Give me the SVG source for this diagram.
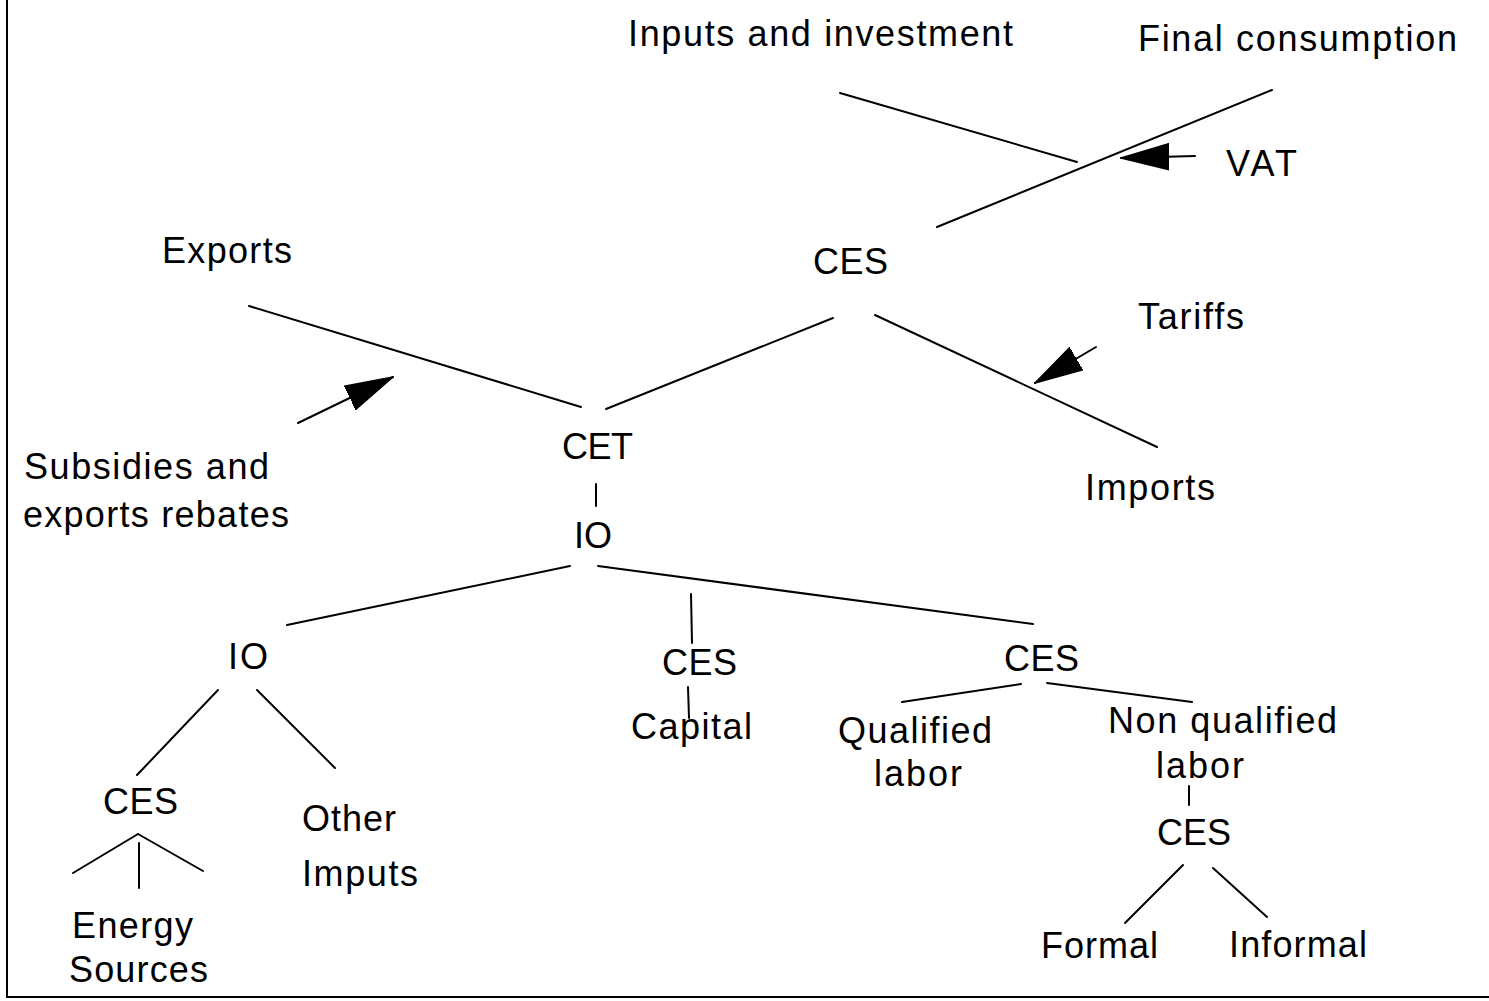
<svg xmlns="http://www.w3.org/2000/svg" width="1489" height="1001" viewBox="0 0 1489 1001">
<style>
  text { font-family: "Liberation Sans", Arial, sans-serif; font-size: 36px; fill: #000; }
  .ln { stroke: #000; stroke-width: 2; fill: none; stroke-linecap: round; }
  .frame { stroke: #000; stroke-width: 2; fill: none; }
</style>
<defs>
  <marker id="head" markerUnits="userSpaceOnUse" markerWidth="50" markerHeight="30" refX="48" refY="14" orient="auto">
    <path d="M0,1 L48,14 L0,27 z" fill="#000" stroke="#000" stroke-width="1.5" stroke-linejoin="round"/>
  </marker>
</defs>
<rect width="1489" height="1001" fill="#fff"/>
<path class="frame" d="M7,0 L7,997 L1489,997"/>

<g id="connectors">
  <line class="ln" x1="840" y1="93" x2="1077" y2="162"/>
  <line class="ln" x1="1272" y1="90" x2="937" y2="227"/>
  <line class="ln" x1="249" y1="306" x2="581" y2="407"/>
  <line class="ln" x1="833" y1="318" x2="606" y2="409"/>
  <line class="ln" x1="875" y1="315" x2="1157" y2="447"/>
  <line class="ln" x1="596" y1="484" x2="596" y2="506"/>
  <line class="ln" x1="570" y1="566" x2="287" y2="625"/>
  <line class="ln" x1="598" y1="566" x2="1033" y2="624"/>
  <line class="ln" x1="691" y1="594" x2="692" y2="643"/>
  <line class="ln" x1="688" y1="687" x2="689" y2="718"/>
  <line class="ln" x1="1021" y1="684" x2="902" y2="702"/>
  <line class="ln" x1="1047" y1="683" x2="1192" y2="702"/>
  <line class="ln" x1="1189" y1="786" x2="1189" y2="805"/>
  <line class="ln" x1="1183" y1="865" x2="1125" y2="923"/>
  <line class="ln" x1="1213" y1="868" x2="1267" y2="917"/>
  <line class="ln" x1="218" y1="690" x2="137" y2="775"/>
  <line class="ln" x1="257" y1="690" x2="335" y2="768"/>
  <line class="ln" x1="138" y1="834" x2="73" y2="873"/>
  <line class="ln" x1="138" y1="834" x2="203" y2="871"/>
  <line class="ln" x1="139" y1="843" x2="139" y2="888"/>
  <line class="ln" x1="1195" y1="156" x2="1121" y2="158" marker-end="url(#head)"/>
  <line class="ln" x1="298" y1="423" x2="393" y2="377" marker-end="url(#head)"/>
  <line class="ln" x1="1096" y1="347" x2="1035" y2="383" marker-end="url(#head)"/>
</g>

<g id="n-inputs"><text x="628" y="46" textLength="385">Inputs and investment</text></g>
<g id="n-final"><text x="1138" y="51" textLength="319">Final consumption</text></g>
<g id="n-vat"><text x="1226" y="176" textLength="71">VAT</text></g>
<g id="n-exports"><text x="162" y="263" textLength="130">Exports</text></g>
<g id="n-ces-top"><text x="813" y="274" textLength="75">CES</text></g>
<g id="n-tariffs"><text x="1138" y="329" textLength="106">Tariffs</text></g>
<g id="n-cet"><text x="562" y="459" textLength="71">CET</text></g>
<g id="n-subsidies"><text x="24" y="479" textLength="245">Subsidies and</text><text x="23" y="527" textLength="266">exports rebates</text></g>
<g id="n-imports"><text x="1085" y="500" textLength="130">Imports</text></g>
<g id="n-io"><text x="574" y="548" textLength="38">IO</text></g>
<g id="n-io-left"><text x="228" y="669" textLength="40">IO</text></g>
<g id="n-ces-mid"><text x="662" y="675" textLength="75">CES</text></g>
<g id="n-ces-right"><text x="1004" y="671" textLength="75">CES</text></g>
<g id="n-capital"><text x="631" y="739" textLength="121">Capital</text></g>
<g id="n-qualified"><text x="838" y="743" textLength="154">Qualified</text><text x="874" y="786" textLength="88">labor</text></g>
<g id="n-nonqualified"><text x="1108" y="733" textLength="229">Non qualified</text><text x="1156" y="778" textLength="88">labor</text></g>
<g id="n-ces-left"><text x="103" y="814" textLength="75">CES</text></g>
<g id="n-other"><text x="302" y="831" textLength="94">Other</text><text x="302" y="886" textLength="116">Imputs</text></g>
<g id="n-ces-labor"><text x="1157" y="845" textLength="74">CES</text></g>
<g id="n-energy"><text x="72" y="938" textLength="121">Energy</text><text x="69" y="982" textLength="139">Sources</text></g>
<g id="n-formal"><text x="1041" y="958" textLength="117">Formal</text></g>
<g id="n-informal"><text x="1229" y="957" textLength="138">Informal</text></g>
</svg>
